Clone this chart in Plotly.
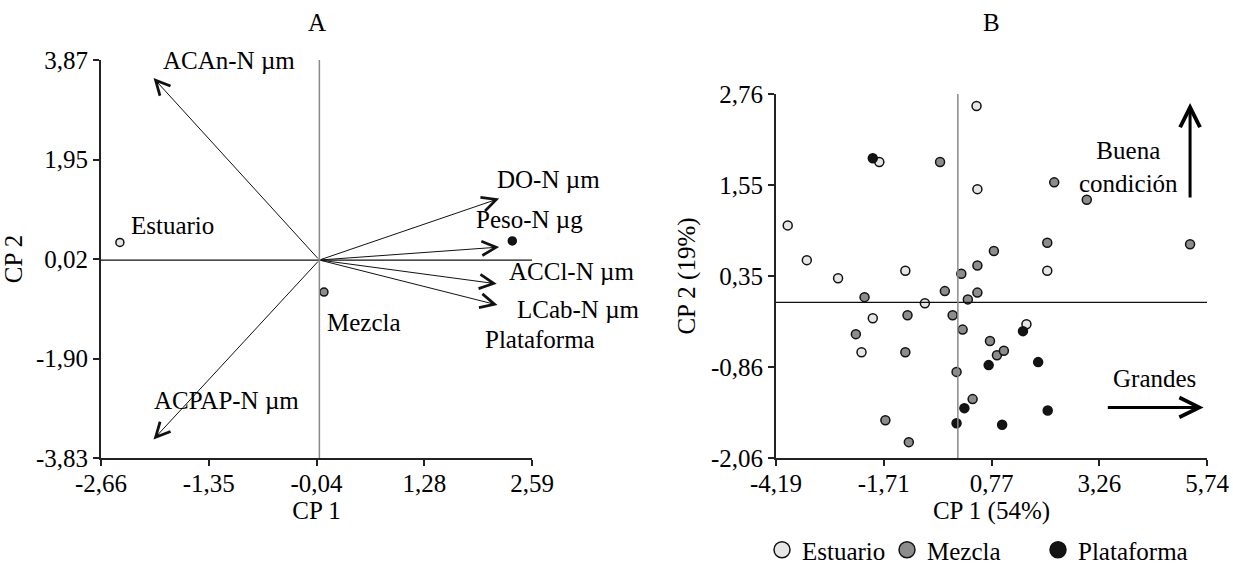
import plotly.graph_objects as go

FONT = "Liberation Serif"
FS = 25

# ---------------- Panel A data ----------------
a_xrange = [-2.66, 2.59]
a_yrange = [-3.83, 3.87]
a_xticks = [-2.66, -1.3475, -0.035, 1.2775, 2.59]
a_xticktext = ["-2,66", "-1,35", "-0,04", "1,28", "2,59"]
a_yticks = [-3.83, -1.905, 0.02, 1.945, 3.87]
a_yticktext = ["-3,83", "-1,90", "0,02", "1,95", "3,87"]

vec_names = ["ACAn-N µm", "DO-N µm", "Peso-N µg", "ACCl-N µm", "LCab-N µm", "ACPAP-N µm"]
vec_x = [-2.02, 2.19, 2.19, 2.16, 2.17, -2.02]
vec_y = [3.52, 1.19, 0.25, -0.46, -0.87, -3.47]
vec_label_x = [-1.93, 2.14, 1.88, 2.28, 2.38, -2.04]
vec_label_y = [3.86, 1.55, 0.79, -0.23, -0.95, -2.72]

grp_names = ["Estuario", "Mezcla", "Plataforma"]
grp_colors = ["#e6e6e6", "#8c8c8c", "#141414"]
a_grp_x = [-2.43, 0.056, 2.35]
a_grp_y = [0.34, -0.62, 0.37]
a_grp_label_x = [-2.32, 0.066, 1.99]
a_grp_label_y = [0.66, -1.21, -1.53]

# ---------------- Panel B data ----------------
b_xrange = [-4.19, 5.74]
b_yrange = [-2.06, 2.76]
b_xticks = [-4.19, -1.7075, 0.775, 3.2575, 5.74]
b_xticktext = ["-4,19", "-1,71", "0,77", "3,26", "5,74"]
b_yticks = [-2.06, -0.855, 0.35, 1.555, 2.76]
b_yticktext = ["-2,06", "-0,86", "0,35", "1,55", "2,76"]

est_x = [0.43, -1.81, 0.45, -3.92, -3.48, -2.76, -1.21, 2.06, -0.76, -1.96, 1.58, -2.22]
est_y = [2.60, 1.86, 1.50, 1.02, 0.56, 0.32, 0.42, 0.42, -0.01, -0.21, -0.29, -0.66]
mez_x = [-0.41, 2.22, 2.97, 2.06, 5.35, 0.83, 0.45, 0.08, -2.15, -0.30, 0.45, 0.23,
         -1.16, -0.12, -2.35, 0.11, -1.21, 0.74, 0.90, 1.06, -0.03, 0.34, -1.67, -1.13]
mez_y = [1.86, 1.59, 1.36, 0.79, 0.77, 0.68, 0.49, 0.38, 0.07, 0.15, 0.13, 0.04,
         -0.17, -0.17, -0.42, -0.36, -0.66, -0.51, -0.70, -0.64, -0.92, -1.28, -1.56, -1.85]
pla_x = [-1.96, 1.50, 0.71, 1.85, 0.15, 2.07, -0.03, 1.02]
pla_y = [1.91, -0.38, -0.83, -0.79, -1.40, -1.43, -1.60, -1.62]
b_x = [est_x, mez_x, pla_x]
b_y = [est_y, mez_y, pla_y]

fig = go.Figure()

# Panel A group points
for i, n in enumerate(grp_names):
    fig.add_trace(go.Scatter(
        x=[a_grp_x[i]], y=[a_grp_y[i]], mode="markers", xaxis="x", yaxis="y",
        marker=dict(size=8, color=grp_colors[i], line=dict(color="#111", width=1.5)),
        showlegend=False, hoverinfo="skip", legendgroup=n))

# Panel B points
for i, n in enumerate(grp_names):
    fig.add_trace(go.Scatter(
        x=b_x[i], y=b_y[i], mode="markers", xaxis="x2", yaxis="y2", name=n,
        marker=dict(size=9, color=grp_colors[i], line=dict(color="#111", width=1.5)),
        showlegend=False, legendgroup=n))

# Legend entries (larger symbols, as in the reference legend)
legends = ["legend", "legend2", "legend3"]
for i, n in enumerate(grp_names):
    fig.add_trace(go.Scatter(
        x=[None], y=[None], mode="markers", xaxis="x2", yaxis="y2", name=n,
        marker=dict(size=16, color=grp_colors[i], line=dict(color="#111", width=1.5)),
        legend=legends[i], legendgroup=n))

annotations = []
# Vector arrows
for i, n in enumerate(vec_names):
    annotations.append(dict(
        x=vec_x[i], y=vec_y[i], ax=0, ay=0, xref="x", yref="y", axref="x", ayref="y",
        text="", showarrow=True, arrowhead=5, arrowsize=2.8, arrowwidth=1,
        arrowcolor="#111", standoff=0, startstandoff=0))
    annotations.append(dict(
        x=vec_label_x[i], y=vec_label_y[i], xref="x", yref="y", text=n,
        showarrow=False, xanchor="left", yanchor="middle",
        font=dict(family=FONT, size=FS, color="black")))
for i, n in enumerate(grp_names):
    annotations.append(dict(
        x=a_grp_label_x[i], y=a_grp_label_y[i], xref="x", yref="y", text=n,
        showarrow=False, xanchor="left", yanchor="middle",
        font=dict(family=FONT, size=FS, color="black")))

# Panel titles
annotations.append(dict(x=sum(a_xrange) / 2, y=(563 - 23) / 563, xref="x", yref="paper",
                        text="A", showarrow=False, yanchor="middle",
                        font=dict(family=FONT, size=FS, color="black")))
annotations.append(dict(x=sum(b_xrange) / 2, y=(563 - 23) / 563, xref="x2", yref="paper",
                        text="B", showarrow=False, yanchor="middle",
                        font=dict(family=FONT, size=FS, color="black")))

# Panel B directional arrows and labels
annotations.append(dict(x=5.35, y=2.64, ax=5.35, ay=1.37, xref="x2", yref="y2",
                        axref="x2", ayref="y2", text="", showarrow=True, arrowhead=5,
                        arrowsize=1.3, arrowwidth=3, arrowcolor="black", standoff=0))
annotations.append(dict(x=5.66, y=-1.39, ax=3.42, ay=-1.39, xref="x2", yref="y2",
                        axref="x2", ayref="y2", text="", showarrow=True, arrowhead=5,
                        arrowsize=1.3, arrowwidth=3, arrowcolor="black", standoff=0))
annotations.append(dict(x=3.93, y=1.80, xref="x2", yref="y2", text="Buena<br>condición",
                        showarrow=False, align="center",
                        font=dict(family=FONT, size=FS, color="black")))
annotations.append(dict(x=4.52, y=-1.01, xref="x2", yref="y2", text="Grandes",
                        showarrow=False, font=dict(family=FONT, size=FS, color="black")))

shapes = [
    dict(type="line", xref="x", yref="y", x0=a_xrange[0], x1=a_xrange[1], y0=0, y1=0,
         line=dict(color="#111", width=1.2)),
    dict(type="line", xref="x", yref="y", x0=0, x1=0, y0=a_yrange[0], y1=a_yrange[1],
         line=dict(color="#8a8a8a", width=1.5)),
    dict(type="line", xref="x2", yref="y2", x0=b_xrange[0], x1=b_xrange[1], y0=0, y1=0,
         line=dict(color="#111", width=1.2)),
    dict(type="line", xref="x2", yref="y2", x0=0, x1=0, y0=b_yrange[0], y1=b_yrange[1],
         line=dict(color="#8a8a8a", width=1.5)),
]

axis_common = dict(showgrid=False, zeroline=False, showline=True, linecolor="#222",
                   linewidth=2, ticks="outside", ticklen=6, tickwidth=1.5, tickcolor="#222",
                   tickfont=dict(family=FONT, size=FS, color="black"), automargin=False)

W, H = 1233, 563
leg_common = dict(y=(H - 550) / H, xanchor="left", yanchor="middle", orientation="h",
                  itemsizing="trace", bgcolor="rgba(0,0,0,0)",
                  font=dict(family=FONT, size=FS, color="black"))
fig.update_layout(
    width=W, height=H, autosize=False,
    margin=dict(l=0, r=0, t=0, b=0, autoexpand=False),
    paper_bgcolor="white", plot_bgcolor="white",
    font=dict(family=FONT, size=FS, color="black"),
    xaxis=dict(domain=[101 / W, 532 / W], range=a_xrange, tickvals=a_xticks,
               ticktext=a_xticktext, anchor="y", ticklabelstandoff=-4,
               title=dict(text="CP 1", font=dict(family=FONT, size=FS), standoff=0),
               **axis_common),
    yaxis=dict(domain=[(H - 458) / H, (H - 60) / H], range=a_yrange, tickvals=a_yticks,
               ticktext=a_yticktext, anchor="x",
               title=dict(text="CP 2", font=dict(family=FONT, size=FS), standoff=6),
               **axis_common),
    xaxis2=dict(domain=[776 / W, 1207 / W], range=b_xrange, tickvals=b_xticks,
                ticktext=b_xticktext, anchor="y2", ticklabelstandoff=-4,
                title=dict(text="CP 1 (54%)", font=dict(family=FONT, size=FS), standoff=0),
                **axis_common),
    yaxis2=dict(domain=[(H - 458) / H, (H - 94) / H], range=b_yrange, tickvals=b_yticks,
                ticktext=b_yticktext, anchor="x2",
                title=dict(text="CP 2 (19%)", font=dict(family=FONT, size=FS), standoff=8),
                **axis_common),
    annotations=annotations,
    shapes=shapes,
    legend=dict(x=762 / W, **leg_common),
    legend2=dict(x=887 / W, **leg_common),
    legend3=dict(x=1038 / W, **leg_common),
)

fig.write_html("out.html")
